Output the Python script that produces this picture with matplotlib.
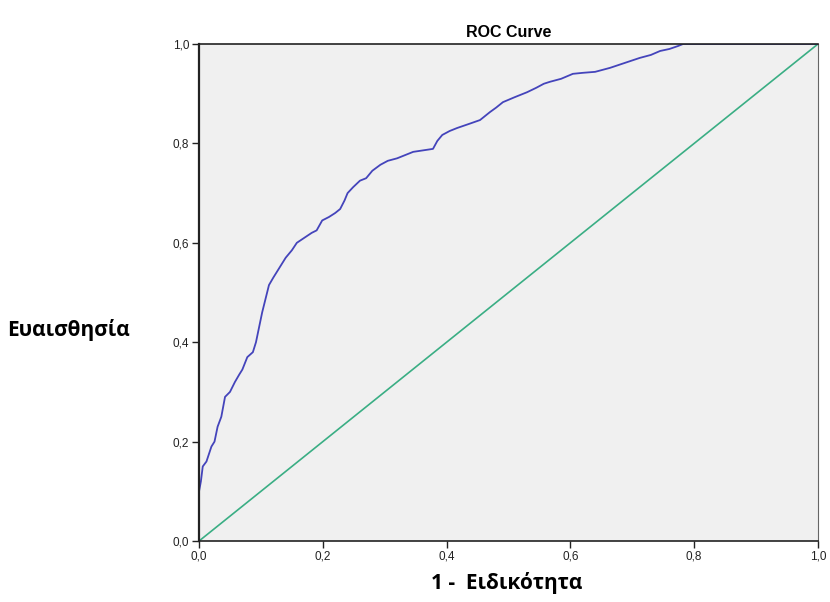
import matplotlib.pyplot as plt

# ROC curve points (1 - specificity, sensitivity)
fpr = [0.0, 0.0, 0.003, 0.006, 0.012, 0.02, 0.025, 0.03, 0.036, 0.042, 0.05, 0.058,
       0.065, 0.07, 0.078, 0.087, 0.092, 0.097, 0.102, 0.108, 0.113, 0.12, 0.13,
       0.14, 0.15, 0.158, 0.17, 0.182, 0.19, 0.199, 0.21, 0.22, 0.228, 0.235, 0.24,
       0.249, 0.26, 0.27, 0.28, 0.293, 0.305, 0.32, 0.346, 0.362, 0.378, 0.385,
       0.393, 0.405, 0.417, 0.438, 0.454, 0.462, 0.47, 0.48, 0.491, 0.51, 0.53,
       0.545, 0.557, 0.567, 0.585, 0.604, 0.62, 0.64, 0.664, 0.688, 0.712, 0.73,
       0.745, 0.76, 0.774, 0.782, 1.0]
tpr = [0.0, 0.10, 0.12, 0.15, 0.16, 0.19, 0.20, 0.23, 0.25, 0.29, 0.30, 0.32,
       0.335, 0.345, 0.37, 0.38, 0.40, 0.43, 0.46, 0.49, 0.515, 0.53, 0.55,
       0.57, 0.585, 0.60, 0.61, 0.62, 0.625, 0.645, 0.652, 0.66, 0.668, 0.685, 0.70,
       0.712, 0.725, 0.73, 0.745, 0.757, 0.765, 0.77, 0.783, 0.786, 0.789, 0.805,
       0.817, 0.825, 0.831, 0.84, 0.847, 0.855, 0.863, 0.872, 0.883, 0.893, 0.903,
       0.912, 0.92, 0.924, 0.93, 0.94, 0.942, 0.944, 0.952, 0.962, 0.972, 0.978,
       0.986, 0.99, 0.996, 1.0, 1.0]

ref_x = [0.0, 1.0]
ref_y = [0.0, 1.0]

ticks = [0.0, 0.2, 0.4, 0.6, 0.8, 1.0]
tick_labels = ["0,0", "0,2", "0,4", "0,6", "0,8", "1,0"]

fig = plt.figure(figsize=(8.3, 6.02), dpi=100)
ax = fig.add_axes([0.2398, 0.1013, 0.7457, 0.8256])
ax.set_facecolor("#f0f0f0")

ax.plot(ref_x, ref_y, color="#3aae84", lw=1.2)
ax.plot(fpr, tpr, color="#4444bb", lw=1.3)

ax.set_xlim(0, 1)
ax.set_ylim(0, 1)
ax.set_xticks(ticks)
ax.set_yticks(ticks)
ax.set_xticklabels(tick_labels, family="Liberation Sans", fontsize=8.5)
ax.set_yticklabels(tick_labels, family="Liberation Sans", fontsize=8.5)
ax.tick_params(direction="out", length=5, width=1, colors="#222222", pad=2)

ax.spines["left"].set_linewidth(1.6)
ax.spines["bottom"].set_linewidth(1.2)
ax.spines["top"].set_linewidth(1.2)
ax.spines["right"].set_linewidth(0.8)
ax.spines["right"].set_color("#666666")
for s in ["left", "bottom", "top"]:
    ax.spines[s].set_color("#222222")

ax.set_title("ROC Curve", family="Liberation Sans", fontweight="bold",
             fontsize=11.5, pad=5)

greek = ["Open Sans", "DejaVu Sans"]
fig.text(0.083, 0.452, "Ευαισθησία", family=greek, fontweight="bold",
         fontsize=15, ha="center", va="center")
fig.text(0.611, 0.032, "1 -  Ειδικότητα", family=greek, fontweight="bold",
         fontsize=15, ha="center", va="center")

fig.savefig("out.png", dpi=100)
